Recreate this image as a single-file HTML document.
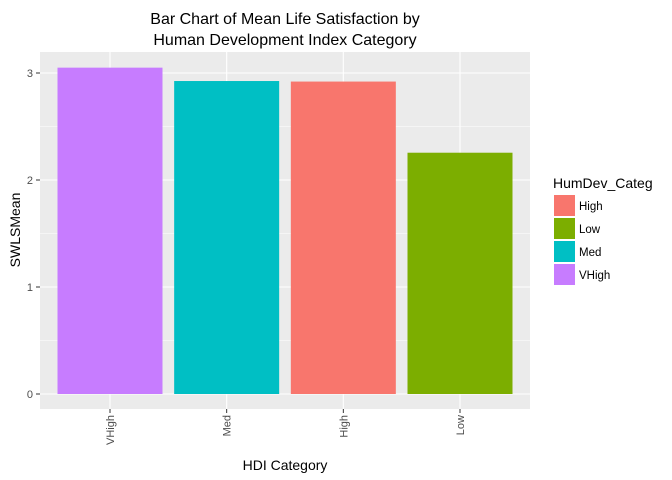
<!DOCTYPE html>
<html><head><meta charset="utf-8"><style>
body{margin:0;background:#fff;}
svg{display:block;font-family:"Liberation Sans",Arial,sans-serif;}
</style></head><body>
<svg id="chart" width="672" height="480">
<text x="285" y="24" font-size="16" text-anchor="middle" fill="#000">Bar Chart of Mean Life Satisfaction by</text>
<text x="285" y="45" font-size="16" text-anchor="middle" fill="#000">Human Development Index Category</text>
<rect x="40" y="52" width="490" height="357" fill="#ebebeb"/>
<g id="grid"></g><g id="bars"></g><g id="axes"></g>
<text x="285" y="470" font-size="14" text-anchor="middle">HDI Category</text>
<text transform="translate(20,230) rotate(-90)" font-size="14" text-anchor="middle">SWLSMean</text>
<g id="legend">
<text x="553" y="188" font-size="14">HumDev_Categ</text>
</g>
</svg>
<script>
const categories=["VHigh","Med","High","Low"];
const values=[3.05,2.925,2.92,2.255];
const yTicks=[0,1,2,3];
const legendLabels=["High","Low","Med","VHigh"];
const colorMap={High:"#F8766D",Low:"#7CAE00",Med:"#00BFC4",VHigh:"#C77CFF"};
const NS="http://www.w3.org/2000/svg";
const L=40,R=530,T=52,B=409;
const yMin=-0.14,yMax=3.2;
const y=v=>394-v*107;
const step=(R-L)/(categories.length-1+1.2);
const x=i=>L+step*(0.6+i);
function mk(tag,attrs,parent,txt){const e=document.createElementNS(NS,tag);for(const k in attrs)e.setAttribute(k,attrs[k]);if(txt!==undefined)e.textContent=txt;parent.appendChild(e);return e;}
const grid=document.getElementById('grid'),bars=document.getElementById('bars'),axes=document.getElementById('axes'),legend=document.getElementById('legend');
for(let t=0;t<yTicks.length;t++){
 const v=yTicks[t];
 const g=mk('line',{x1:L,x2:R,y1:y(v),y2:y(v),stroke:'#fff','stroke-width':1.1},grid);
 
 
 if(t<yTicks.length-1){const m=mk('line',{x1:L,x2:R,y1:y(v+0.5),y2:y(v+0.5),stroke:'#fff','stroke-width':0.5},grid);
 
 }
 const tk=mk('line',{x1:L-4,x2:L,y1:y(v),y2:y(v),stroke:'#333'},axes);
 
 
 const lb=mk('text',{x:L-7,y:y(v)+4,'font-size':11,'text-anchor':'end',fill:'#4d4d4d'},axes,String(v));
 
 
}
categories.forEach((c,i)=>{
 const cx=x(i);
 const g=mk('line',{x1:cx,x2:cx,y1:T,y2:B,stroke:'#fff','stroke-width':1.1},grid);
 
 
 const w=step*0.9;
 const r=mk('rect',{x:cx-w/2,y:y(values[i]),width:w,height:y(0)-y(values[i]),fill:colorMap[c]},bars);
 
 
 const tk=mk('line',{x1:cx,x2:cx,y1:B,y2:B+4,stroke:'#333'},axes);
 
 
 const lb=mk('text',{transform:`translate(${cx+4},${B+6}) rotate(-90)`,'font-size':11,'text-anchor':'end',fill:'#4d4d4d'},axes,c);
 
 
});
legendLabels.forEach((c,i)=>{
 const ky=195+i*23;
 const k=mk('rect',{x:554,y:ky,width:21,height:21,fill:colorMap[c]},legend);
 
 
 const t=mk('text',{x:579,y:ky+15,'font-size':11.5,fill:'#000'},legend,c);
 
 
});
</script>
</body></html>
